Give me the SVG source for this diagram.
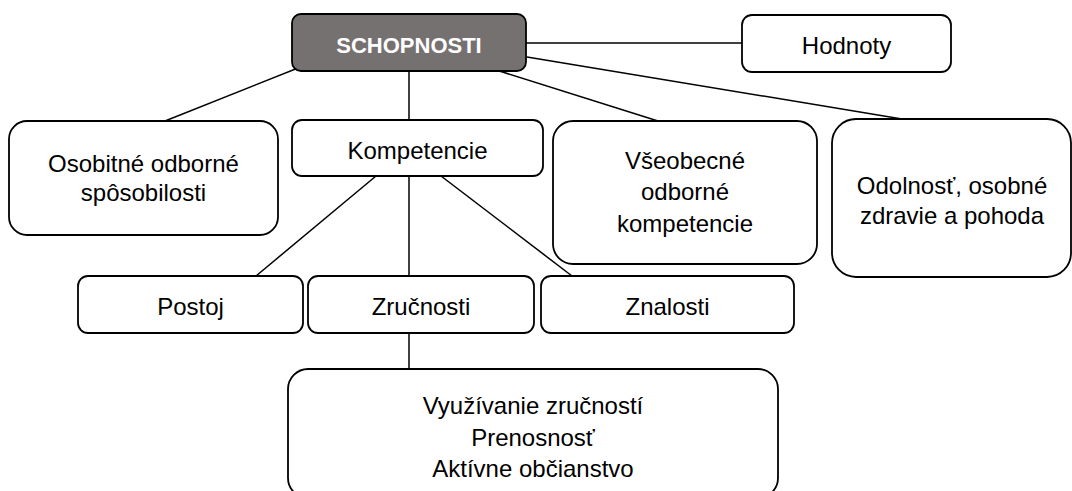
<svg xmlns="http://www.w3.org/2000/svg" width="1072" height="491" viewBox="0 0 1072 491">
<style>
.box{fill:#ffffff;stroke:#000000;stroke-width:1.8}
.main{fill:#767171;stroke:#000000;stroke-width:1.8}
.t{font-family:"Liberation Sans",Arial,sans-serif;font-size:24px;fill:#000000;text-anchor:middle}
.tm{font-family:"Liberation Sans",Arial,sans-serif;font-size:22px;font-weight:bold;fill:#ffffff;text-anchor:middle}
.c line{stroke:#000000;stroke-width:1.5}
</style>
<rect width="1072" height="491" fill="#ffffff"/>
<g id="connectors" class="c">
<line x1="298" y1="68" x2="165" y2="121"/>
<line x1="409" y1="71" x2="409" y2="120"/>
<line x1="526" y1="43" x2="742" y2="43"/>
<line x1="493" y1="69" x2="658" y2="121"/>
<line x1="527" y1="57" x2="902" y2="119"/>
<line x1="376" y1="176" x2="256" y2="276"/>
<line x1="409" y1="176" x2="409" y2="276"/>
<line x1="441" y1="176" x2="572" y2="276"/>
<line x1="409" y1="333" x2="409" y2="369"/>
</g>
<g id="schopnosti">
<rect class="main" x="292" y="14" width="234" height="57" rx="9"/>
<text class="tm" x="409" y="53">SCHOPNOSTI</text>
</g>
<g id="hodnoty">
<rect class="box" x="742" y="15" width="209" height="57" rx="10"/>
<text class="t" x="846.5" y="54">Hodnoty</text>
</g>
<g id="osobitne">
<rect class="box" x="9" y="121" width="269" height="114" rx="18"/>
<text class="t" x="143.5" y="172">Osobitné odborné</text>
<text class="t" x="143.5" y="201">spôsobilosti</text>
</g>
<g id="kompetencie">
<rect class="box" x="292" y="120" width="251" height="56" rx="10"/>
<text class="t" x="417.5" y="159">Kompetencie</text>
</g>
<g id="vseobecne">
<rect class="box" x="553" y="121" width="264" height="143" rx="20"/>
<text class="t" x="685" y="169">Všeobecné</text>
<text class="t" x="685" y="200">odborné</text>
<text class="t" x="685" y="232">kompetencie</text>
</g>
<g id="odolnost">
<rect class="box" x="832" y="119" width="239" height="158" rx="24"/>
<text class="t" x="952" y="194">Odolnosť, osobné</text>
<text class="t" x="952" y="224">zdravie a pohoda</text>
</g>
<g id="postoj">
<rect class="box" x="78" y="276" width="225" height="57" rx="10"/>
<text class="t" x="190.5" y="315">Postoj</text>
</g>
<g id="zrucnosti">
<rect class="box" x="308" y="276" width="226" height="57" rx="10"/>
<text class="t" x="421" y="315">Zručnosti</text>
</g>
<g id="znalosti">
<rect class="box" x="541" y="276" width="253" height="57" rx="10"/>
<text class="t" x="667.5" y="315">Znalosti</text>
</g>
<g id="vyuzivanie">
<rect class="box" x="288" y="369" width="490" height="129" rx="20"/>
<text class="t" x="533" y="414">Využívanie zručností</text>
<text class="t" x="533" y="446">Prenosnosť</text>
<text class="t" x="533" y="477">Aktívne občianstvo</text>
</g>
</svg>
